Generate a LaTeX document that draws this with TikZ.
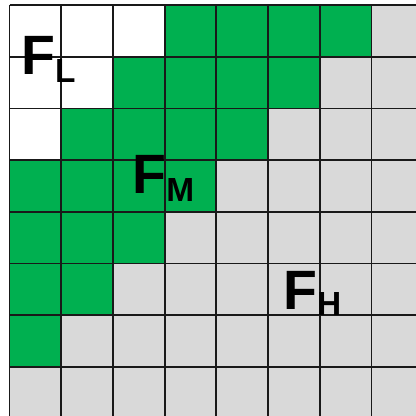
\documentclass[tikz,border=0pt]{standalone}
\usepackage{fontspec}
\setmainfont{Liberation Sans}
\usepackage{xcolor}
\usepackage{tikz}

\definecolor{cellgreen}{RGB}{0,176,80}
\definecolor{cellgray}{RGB}{217,217,217}

\begin{document}
\begin{tikzpicture}[
      font=\bfseries,
      zone/.style={draw=none},
      lines/.style={line width=1pt, black!90},
      lbl/.style={anchor=base west, inner sep=0pt, font=\fontsize{30.5}{30}\selectfont\bfseries},
    ]

    % frame of the picture
    \useasboundingbox[fill=white] (-0.184,0.097) rectangle (7.862,-7.949);
    \clip (-0.184,0.097) rectangle (7.862,-7.949);

    % three zones
    \fill[zone, cellgray] (0,0) rectangle (8,-8);
    \fill[zone, cellgreen] (0,0) -- (7,0) -- (7,-1) -- (6,-1) -- (6,-2) -- (5,-2)
      -- (5,-3) -- (4,-3) -- (4,-4) -- (3,-4) -- (3,-5) -- (2,-5) -- (2,-6)
      -- (1,-6) -- (1,-7) -- (0,-7) -- cycle;
    \fill[zone, white] (0,0) -- (3,0) -- (3,-1) -- (2,-1) -- (2,-2) -- (1,-2)
      -- (1,-3) -- (0,-3) -- cycle;

    % grid
    \draw[lines] (0,0) grid (8.5,-8.5);

    % labels
    \node[lbl] (fl) at (0.222,-1.335) {F\raisebox{-4.4pt}{\fontsize{18.4}{18}\selectfont L}};
    \node[lbl] (fm) at (2.37,-3.636) {F\raisebox{-4.4pt}{\fontsize{18.4}{18}\selectfont M}};
    \node[lbl] (fh) at (5.29,-5.88) {F\raisebox{-3.4pt}{\fontsize{18.4}{18}\selectfont H}};
  \end{tikzpicture}
\end{document}
